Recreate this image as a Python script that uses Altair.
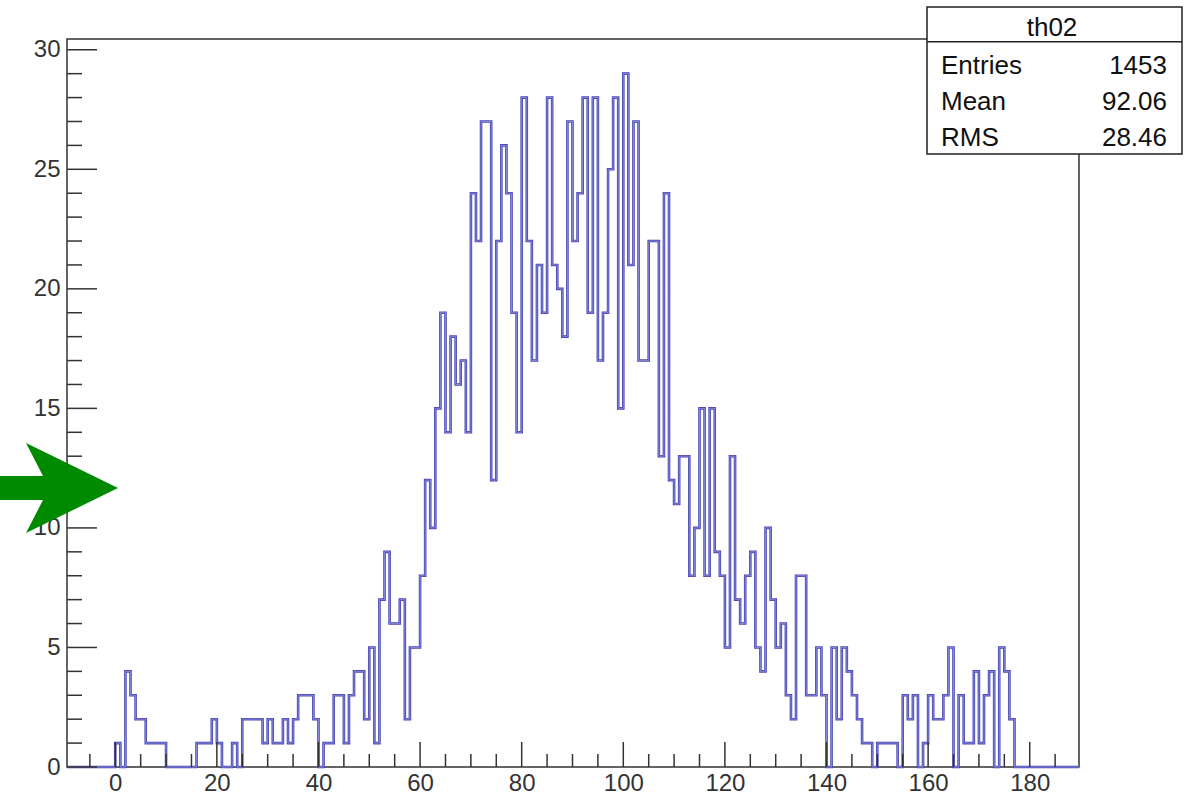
import altair as alt
import pandas as pd

# ---- data (bin width 1, bins start at integer x) ----
counts = [
    1, 0, 4, 3, 2, 2, 1, 1, 1, 1,
    0, 0, 0, 0, 0, 0, 1, 1, 1, 2,
    1, 0, 0, 1, 0, 2, 2, 2, 2, 1,
    2, 1, 1, 2, 1, 2, 3, 3, 3, 2,
    0, 1, 1, 3, 3, 1, 3, 4, 4, 2,
    5, 1, 7, 9, 6, 6, 7, 2, 5, 5,
    8, 12, 10, 15, 19, 14, 18, 16, 17, 14,
    24, 22, 27, 27, 12, 22, 26, 24, 19, 14,
    28, 22, 17, 21, 19, 28, 21, 20, 18, 27,
    22, 24, 28, 19, 28, 17, 19, 25, 28, 15,
    29, 21, 27, 17, 17, 22, 22, 13, 24, 12,
    11, 13, 13, 8, 10, 15, 8, 15, 9, 8,
    5, 13, 7, 6, 8, 9, 5, 4, 10, 7,
    5, 6, 3, 2, 8, 8, 3, 3, 5, 3,
    0, 5, 2, 5, 4, 3, 2, 1, 1, 0,
    1, 1, 1, 1, 0, 3, 2, 3, 0, 1,
    3, 2, 2, 3, 5, 0, 3, 1, 1, 4,
    1, 3, 4, 0, 5, 4, 2,
]
x_min, x_max = -9.5, 189.7
y_max = 30.45

x_major = [0, 20, 40, 60, 80, 100, 120, 140, 160, 180]
x_minor = [-5, 5, 10, 15, 25, 30, 35, 45, 50, 55, 65, 70, 75, 85, 90, 95,
           105, 110, 115, 125, 130, 135, 145, 150, 155, 165, 170, 175, 185]
y_major = [0, 5, 10, 15, 20, 25, 30]
y_minor = [1, 2, 3, 4, 6, 7, 8, 9, 11, 12, 13, 14, 16, 17, 18, 19,
           21, 22, 23, 24, 26, 27, 28, 29]

stats_title = "th02"
stats_labels = ["Entries", "Mean", "RMS"]
stats_values = ["1453", "92.06", "28.46"]

# ---- layout ----
W, H = 1012, 728
FONT = "Liberation Sans"
AXIS_COL = "#333333"

edges = [x_min] + list(range(len(counts))) + [len(counts), x_max]
heights = [0] + counts + [0, 0]
hist = pd.DataFrame({"x": edges, "y": heights})

xscale = alt.Scale(domain=[x_min, x_max], nice=False, zero=False)
yscale = alt.Scale(domain=[0, y_max], nice=False, zero=False)

x_axis = alt.Axis(values=x_major, title=None, ticks=False, domain=False, grid=False,
                  labelFont=FONT, labelFontSize=24, labelColor=AXIS_COL,
                  labelPadding=4, labelFlush=False)
y_axis = alt.Axis(values=y_major, title=None, ticks=False, domain=False, grid=False,
                  labelFont=FONT, labelFontSize=24, labelColor=AXIS_COL,
                  labelPadding=7)

line_dark = alt.Chart(hist).mark_line(
    interpolate="step-after", color="#4848b6", strokeWidth=2.6
).encode(
    x=alt.X("x:Q", scale=xscale, axis=x_axis),
    y=alt.Y("y:Q", scale=yscale, axis=y_axis),
)
line_light = alt.Chart(hist).mark_line(
    interpolate="step-after", color="#8c8cdc", strokeWidth=0.9
).encode(
    x=alt.X("x:Q", scale=xscale, axis=x_axis),
    y=alt.Y("y:Q", scale=yscale, axis=y_axis),
)

def xticks(vals, length):
    return alt.Chart(pd.DataFrame({"v": vals})).mark_rule(
        color=AXIS_COL, strokeWidth=1.5
    ).encode(
        x=alt.X("v:Q", scale=xscale, axis=x_axis),
        y=alt.value(H), y2=alt.value(H - length),
    )

def yticks(vals, length):
    return alt.Chart(pd.DataFrame({"v": vals})).mark_rule(
        color=AXIS_COL, strokeWidth=1.5
    ).encode(
        y=alt.Y("v:Q", scale=yscale, axis=y_axis),
        x=alt.value(0), x2=alt.value(length),
    )

one = pd.DataFrame({"a": [0]})

# stats box
box = alt.Chart(one).mark_rect(fill="white", stroke="#222222", strokeWidth=1.5).encode(
    x=alt.value(860), x2=alt.value(1115), y=alt.value(-32), y2=alt.value(115)
)
sep = alt.Chart(one).mark_rule(color="#222222", strokeWidth=1.5).encode(
    x=alt.value(860), x2=alt.value(1115), y=alt.value(2.7)
)
txt_layers = [
    alt.Chart(one).mark_text(align="center", baseline="alphabetic", font=FONT,
                             fontSize=26, color="#111111").encode(
        x=alt.value(985), y=alt.value(-3), text=alt.value(stats_title))
]
row_y = [35, 71, 106.5]
for lab, val, yy in zip(stats_labels, stats_values, row_y):
    txt_layers.append(alt.Chart(one).mark_text(align="left", baseline="alphabetic", font=FONT,
                                               fontSize=26, color="#111111").encode(
        x=alt.value(874), y=alt.value(yy), text=alt.value(lab)))
    txt_layers.append(alt.Chart(one).mark_text(align="right", baseline="alphabetic", font=FONT,
                                               fontSize=26, color="#111111").encode(
        x=alt.value(1100), y=alt.value(yy), text=alt.value(val)))

# green arrow annotation
arrow_path = ("M -1 -0.203 L -0.271 -0.203 L -0.559 -0.763 L 1 0 "
              "L -0.559 0.763 L -0.271 0.203 L -1 0.203 Z")
arrow = alt.Chart(one).mark_point(
    shape=arrow_path, size=118 * 118, filled=True, fill="#008a00",
    opacity=1, strokeWidth=0
).encode(x=alt.value(-8), y=alt.value(449))

chart = alt.layer(
    line_dark, line_light,
    xticks(x_major, 25), xticks(x_minor, 13),
    yticks(y_major, 30), yticks(y_minor, 15),
    box, sep, *txt_layers, arrow,
).properties(
    width=W, height=H,
    autosize=alt.AutoSizeParams(type="none"),
    padding={"left": 67, "top": 39, "right": 119, "bottom": 36},
    background="white",
).configure_view(stroke=AXIS_COL, strokeWidth=1.5)

chart.save("out.html", embed_options={"renderer": "svg", "actions": False})
